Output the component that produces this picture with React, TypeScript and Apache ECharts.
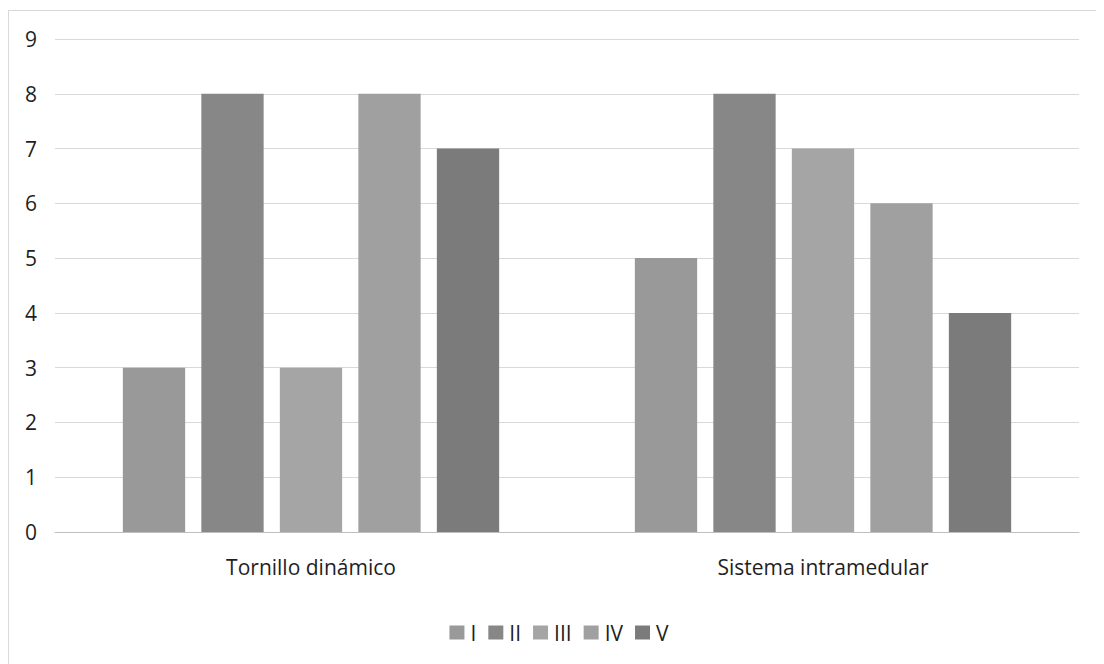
import React, { useEffect, useRef } from "react";
import * as echarts from "echarts";

const categories = ["Tornillo dinámico", "Sistema intramedular"];
const seriesNames = ["I", "II", "III", "IV", "V"];
const seriesColors = ["#999999", "#878787", "#a5a5a5", "#a0a0a0", "#7b7b7b"];
const valuesI = [3, 5];
const valuesII = [8, 8];
const valuesIII = [3, 7];
const valuesIV = [8, 6];
const valuesV = [7, 4];
const allValues = [valuesI, valuesII, valuesIII, valuesIV, valuesV];

const FONT = "'Open Sans', 'Liberation Sans', sans-serif";
const TEXT = "#1f1f1f";

export default function App() {
  const ref = useRef<HTMLDivElement>(null);
  useEffect(() => {
    if (!ref.current) return;
    const chart = echarts.init(ref.current, undefined, { renderer: "svg" });
    chart.setOption({
      animation: false,
      backgroundColor: "#ffffff",
      grid: { left: 46, right: 30, top: 28, bottom: 139 },
      legend: {
        left: "center",
        top: 606,
        itemWidth: 15,
        itemHeight: 14,
        itemGap: 12,
        icon: "rect",
        textStyle: { fontFamily: FONT, fontSize: 21, color: TEXT, padding: [0, 0, 0, 1] },
        data: seriesNames,
      },
      xAxis: {
        type: "category",
        data: categories,
        axisLine: { lineStyle: { color: "#bfbfbf", width: 1 } },
        axisTick: { show: false },
        axisLabel: { fontFamily: FONT, fontSize: 21, color: TEXT, margin: 24 },
      },
      yAxis: {
        type: "value",
        min: 0,
        max: 9,
        interval: 1,
        axisLine: { show: false },
        axisTick: { show: false },
        splitLine: { lineStyle: { color: "#d9d9d9", width: 1 } },
        axisLabel: { fontFamily: FONT, fontSize: 21, color: TEXT, margin: 18 },
      },
      series: seriesNames.map((name, i) => ({
        name,
        type: "bar",
        data: allValues[i],
        itemStyle: { color: seriesColors[i] },
        barGap: "26%",
        barCategoryGap: "26.5%",
      })),
    });
    return () => chart.dispose();
  }, []);
  return (
    <div
      style={{
        position: "relative",
        top: 2,
        width: 1100,
        height: 660,
        border: "1px solid #d9d9d9",
      }}
    >
      <div ref={ref} style={{ width: 1100, height: 660 }} />
    </div>
  );
}
